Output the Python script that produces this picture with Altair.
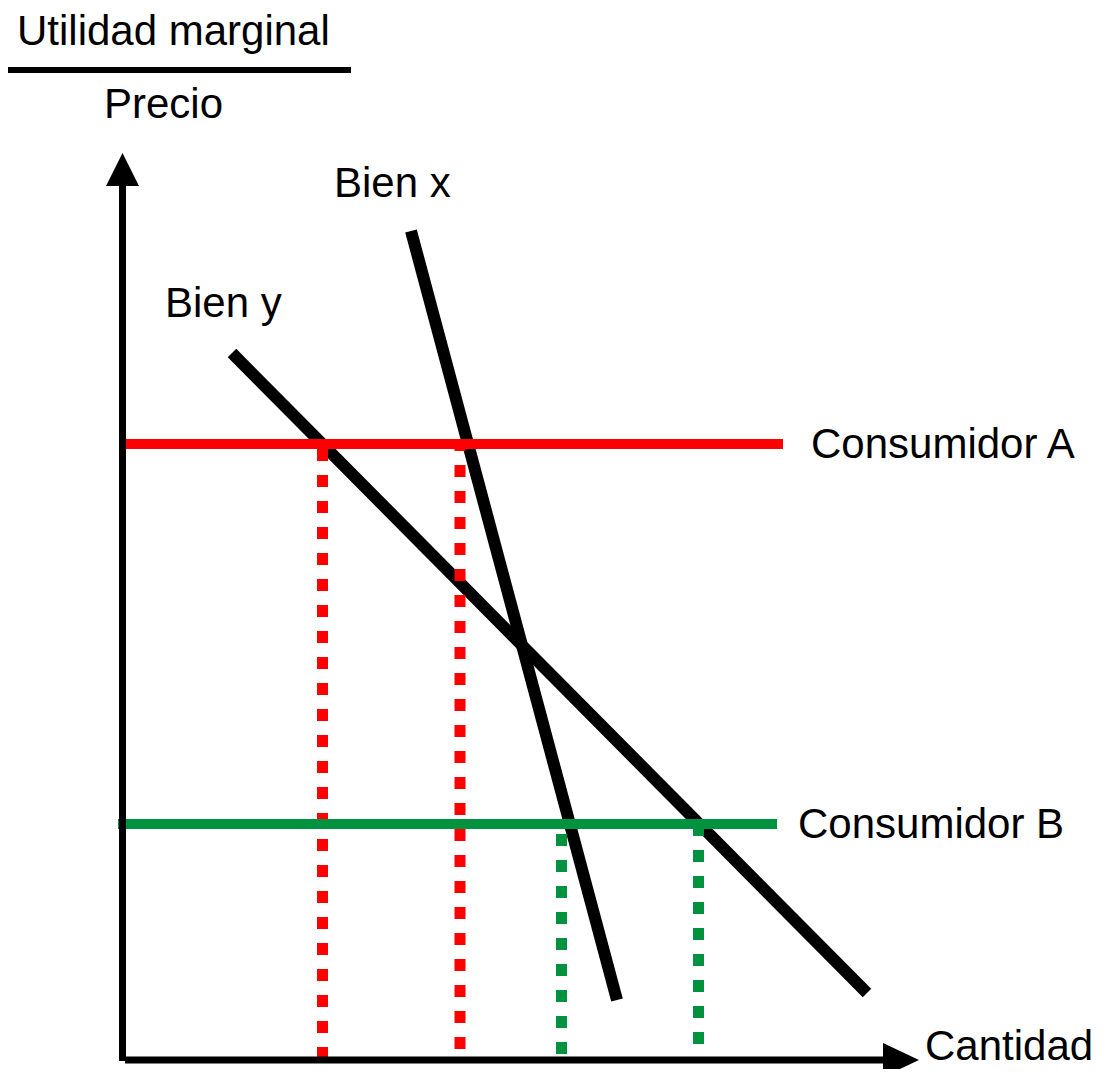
import altair as alt
import pandas as pd

# Diagram units: origin at the corner of the axes (Cantidad = 0, Precio = 0)
bien_x_q = [288.5, 494.5]
bien_x_p = [829, 60]
bien_y_q = [109.5, 744.5]
bien_y_p = [707, 67]

precio_A = 616
precio_B = 236
cons_A_q = [2.5, 660.5]
cons_B_q = [-4.5, 654.5]

cant_A = [200, 337.5]
cant_A_top = [611, 621]
cant_B = [439, 576]
cant_B_top = [226, 236]
dot_bottom = 2

y_axis_p = [-1, 880]
y_arrow_q = [-16.5, 0, 16.5]
y_arrow_p2 = [874, 907, 874]
y_arrow_base = 874

x_axis_q = [2.5, 766]
x_arrow_p = [-17, 0, 17]
x_arrow_q2 = [760.5, 796.5, 760.5]
x_arrow_base = 760.5

frac_q = [-114.5, 228.5]
frac_p = 990

labels = ["Utilidad marginal", "Precio", "Bien x", "Bien y",
          "Consumidor A", "Consumidor B", "Cantidad"]
label_q = [-105.5, -18.5, 211.5, 42.5, 688.5, 675.5, 802.5]
label_p = [1015, 942, 863, 743, 602, 222, 0]

RED = "#FF0000"
GREEN = "#00923F"

XS = alt.Scale(domain=[-114.5, 973.5], nice=False, zero=False)
YS = alt.Scale(domain=[-9, 1052], nice=False, zero=False)


def segs(pairs):
    rows = []
    for i, (qs, ps) in enumerate(pairs):
        for j, (q, p) in enumerate(zip(qs, ps)):
            rows.append({"seg": i, "q": q, "p": p, "o": j})
    return pd.DataFrame(rows)


def line_layer(df, **kw):
    return alt.Chart(df).mark_line(strokeCap="butt", clip=False, **kw).encode(
        x=alt.X("q:Q", scale=XS, axis=None),
        y=alt.Y("p:Q", scale=YS, axis=None),
        detail="seg:N",
        order=alt.Order("o:Q"),
    )


demand = line_layer(segs([(bien_x_q, bien_x_p), (bien_y_q, bien_y_p)]),
                    color="black", strokeWidth=12)

red_dots = line_layer(segs([([q, q], [t, dot_bottom]) for q, t in zip(cant_A, cant_A_top)]),
                      color=RED, strokeWidth=11, strokeDash=[12, 14])
green_dots = line_layer(segs([([q, q], [t, dot_bottom]) for q, t in zip(cant_B, cant_B_top)]),
                        color=GREEN, strokeWidth=11, strokeDash=[12, 14])

red_line = line_layer(segs([(cons_A_q, [precio_A, precio_A])]), color=RED, strokeWidth=10)
green_line = line_layer(segs([(cons_B_q, [precio_B, precio_B])]), color=GREEN, strokeWidth=10)

axes = line_layer(segs([([0, 0], y_axis_p), (x_axis_q, [0, 0])]),
                  color="black", strokeWidth=7)

frac = line_layer(segs([(frac_q, [frac_p, frac_p])]), color="black", strokeWidth=6)

y_arrow = alt.Chart(pd.DataFrame({"q": y_arrow_q, "p": [y_arrow_base] * 3, "p2": y_arrow_p2})).mark_area(
    color="black", orient="vertical", clip=False).encode(
    x=alt.X("q:Q", scale=XS, axis=None),
    y=alt.Y("p:Q", scale=YS, axis=None),
    y2="p2:Q",
)

x_arrow = alt.Chart(pd.DataFrame({"p": x_arrow_p, "q": [x_arrow_base] * 3, "q2": x_arrow_q2})).mark_area(
    color="black", orient="horizontal", clip=False).encode(
    y=alt.Y("p:Q", scale=YS, axis=None),
    x=alt.X("q:Q", scale=XS, axis=None),
    x2="q2:Q",
)

texts = alt.Chart(pd.DataFrame({"t": labels, "q": label_q, "p": label_p})).mark_text(
    font="Liberation Sans", fontSize=42, align="left", baseline="alphabetic", color="black"
).encode(
    x=alt.X("q:Q", scale=XS, axis=None),
    y=alt.Y("p:Q", scale=YS, axis=None),
    text="t:N",
)

chart = alt.layer(
    demand, red_dots, green_dots, red_line, green_line, axes, y_arrow, x_arrow, frac, texts
).properties(
    width=1088, height=1061, padding=0,
    autosize=alt.AutoSizeParams(type="none"),
    background="white",
).configure_view(stroke=None)

chart.save("out.html", embed_options={"renderer": "svg", "actions": False})
